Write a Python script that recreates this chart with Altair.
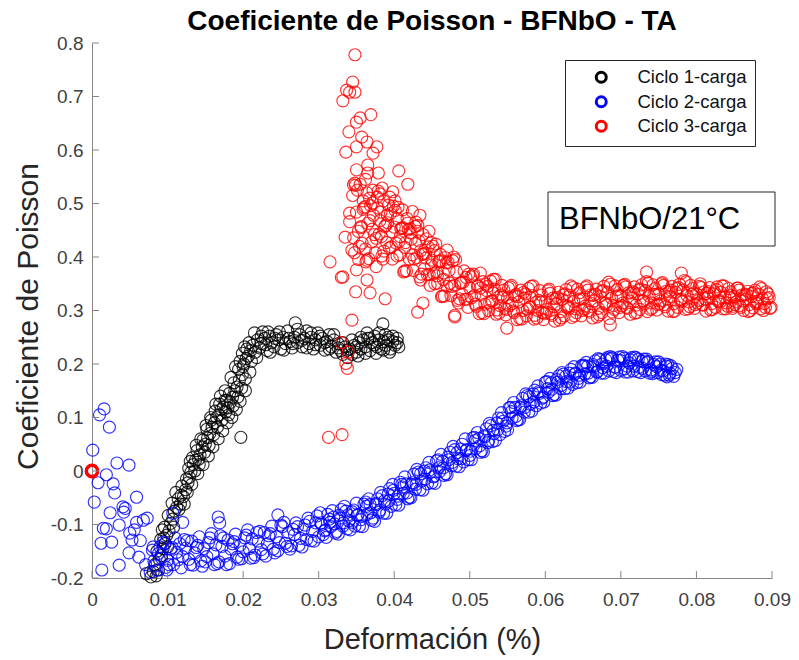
import altair as alt
import pandas as pd

series_names = ["Ciclo 1-carga", "Ciclo 2-carga", "Ciclo 3-carga"]
series_colors = ["#000000", "#0000ff", "#ff0000"]
x_ticks = [0, 0.01, 0.02, 0.03, 0.04, 0.05, 0.06, 0.07, 0.08, 0.09]
y_ticks = [-0.2, -0.1, 0, 0.1, 0.2, 0.3, 0.4, 0.5, 0.6, 0.7, 0.8]

black_pts = [
    (0.0072,-0.192),(0.0078,-0.198),(0.0081,-0.188),(0.0085,-0.196),(0.0088,-0.185),(0.0083,-0.175),
    (0.0089,-0.165),(0.0092,-0.158),(0.0086,-0.150),(0.0094,-0.145),(0.0097,-0.135),(0.0091,-0.128),
    (0.0099,-0.120),(0.0102,-0.112),(0.0096,-0.105),(0.0093,-0.110),(0.0104,-0.098),(0.0107,-0.090),
    (0.0101,-0.083),(0.0109,-0.075),(0.0112,-0.068),(0.0106,-0.060),(0.0114,-0.052),(0.0118,-0.045),
    (0.0111,-0.040),(0.0121,-0.048),(0.0124,-0.035),(0.0119,-0.028),(0.0127,-0.022),(0.0126,-0.040),
    (0.0129,-0.012),(0.0131,-0.002),(0.0128,0.005),(0.0134,0.012),(0.0137,0.020),(0.0133,0.025),
    (0.0141,0.022),(0.0143,0.030),(0.0139,0.038),(0.0146,0.045),(0.0150,0.050),(0.0147,0.058),
    (0.0153,0.062),(0.0156,0.070),(0.0152,0.078),(0.0159,0.082),(0.0162,0.090),(0.0158,0.095),
    (0.0165,0.100),(0.0168,0.105),(0.0163,0.112),(0.0171,0.115),(0.0174,0.120),(0.0169,0.125),
    (0.0177,0.110),(0.0180,0.118),(0.0178,0.132),(0.0183,0.128),(0.0186,0.138),(0.0182,0.145),
    (0.0189,0.150),(0.0192,0.157),(0.0188,0.165),(0.0197,0.063),(0.0195,0.170),(0.0199,0.180),
    (0.0194,0.190),(0.0201,0.200),(0.0204,0.210),(0.0199,0.220),(0.0202,0.232),(0.0207,0.215),
    (0.0210,0.225),(0.0208,0.240),(0.0213,0.235),(0.0216,0.222),(0.0219,0.245),(0.0222,0.230),
    (0.0226,0.260),(0.0224,0.238),(0.0229,0.248),(0.0232,0.225),(0.0235,0.252),(0.0238,0.240),
    (0.0241,0.232),(0.0244,0.255),(0.0247,0.245),(0.0250,0.228),(0.0253,0.250),(0.0256,0.238),
    (0.0259,0.262),(0.0262,0.242),(0.0265,0.230),(0.0268,0.250),(0.0269,0.277),(0.0272,0.240),
    (0.0275,0.255),(0.0278,0.232),(0.0281,0.248),(0.0284,0.262),(0.0287,0.238),(0.0290,0.250),
    (0.0293,0.228),(0.0296,0.245),(0.0299,0.258),(0.0302,0.235),(0.0305,0.248),(0.0308,0.226),
    (0.0311,0.242),(0.0314,0.255),(0.0317,0.232),(0.0320,0.245),(0.0323,0.222),(0.0326,0.238),
    (0.0329,0.225),(0.0332,0.218),(0.0335,0.232),(0.0338,0.212),(0.0341,0.228),(0.0344,0.218),
    (0.0347,0.235),(0.0350,0.222),(0.0353,0.240),(0.0356,0.228),(0.0359,0.245),(0.0362,0.232),
    (0.0365,0.248),(0.0368,0.225),(0.0371,0.240),(0.0374,0.252),(0.0377,0.232),(0.0380,0.245),
    (0.0383,0.228),(0.0385,0.275),(0.0386,0.242),(0.0389,0.235),(0.0392,0.250),(0.0395,0.228),
    (0.0398,0.242),(0.0401,0.235),(0.0404,0.248),(0.0406,0.232),(0.0394,0.222),(0.0388,0.255),
    (0.0376,0.220),(0.0364,0.258),(0.0352,0.215),(0.0215,0.258),(0.0233,0.260),(0.0203,0.172),
    (0.0218,0.212),(0.0224,0.252),(0.0230,0.236),(0.0236,0.222),(0.0242,0.248),(0.0248,0.260),
    (0.0254,0.226),(0.0260,0.248),(0.0266,0.238),(0.0272,0.265),(0.0278,0.244),(0.0284,0.230),
    (0.0290,0.258),(0.0296,0.236),(0.0302,0.252),(0.0308,0.240),(0.0314,0.228),(0.0320,0.255),
    (0.0326,0.230),(0.0332,0.240),(0.0338,0.226),(0.0344,0.245),(0.0350,0.232),(0.0356,0.250),
    (0.0362,0.220),(0.0368,0.248),(0.0374,0.236),(0.0380,0.258),(0.0386,0.226),(0.0392,0.245),
    (0.0398,0.252),(0.0404,0.240),
    (0.0095,-0.125),(0.0100,-0.142),(0.0108,-0.105),(0.0115,-0.072),(0.0122,-0.062),(0.0132,-0.025),
    (0.0136,0.000),(0.0142,0.012),(0.0149,0.035),(0.0155,0.048),(0.0161,0.068),(0.0166,0.082),
    (0.0172,0.095),(0.0176,0.132),(0.0181,0.105),(0.0187,0.122),(0.0193,0.138),(0.0198,0.155),
    (0.0200,0.195),(0.0205,0.228),(0.0211,0.205),
    (0.0117,-0.062),(0.0125,-0.015),(0.0130,0.018),(0.0138,0.048),(0.0144,0.060),(0.0151,0.085),
    (0.0157,0.100),(0.0164,0.125),(0.0170,0.140),(0.0176,0.150),(0.0184,0.175),(0.0190,0.195),
    (0.0196,0.205),(0.0140,-0.005),(0.0147,0.012),(0.0154,0.028),(0.0160,0.045),(0.0167,0.060),
    (0.0173,0.075),(0.0179,0.090),(0.0185,0.100),(0.0191,0.115),(0.0196,0.130),(0.0203,0.150),
    (0.0209,0.185),
]

blue_pts = [
    (0.0001,0.039),(0.0010,0.105),(0.0016,0.116),(0.0023,0.082),(0.0019,-0.007),(0.0008,-0.022),
    (0.0003,-0.058),(0.0028,-0.024),(0.0030,-0.041),(0.0033,0.015),(0.0049,0.011),(0.0059,-0.049),
    (0.0024,-0.078),(0.0041,-0.067),(0.0042,-0.077),(0.0036,-0.101),(0.0015,-0.107),(0.0019,-0.108),
    (0.0012,-0.135),(0.0026,-0.133),(0.0013,-0.185),(0.0036,-0.176),(0.0050,-0.116),(0.0053,-0.129),
    (0.0049,-0.153),(0.0059,-0.096),(0.0068,-0.092),(0.0062,-0.161),(0.0073,-0.088),(0.0081,-0.142),
    (0.0167,-0.086),(0.0169,-0.097),(0.0107,-0.079),(0.0120,-0.096),(0.0077,-0.189),(0.0099,-0.185),
    (0.0246,-0.082),(0.0044,-0.070),(0.0064,-0.130),(0.0071,-0.175),(0.0056,-0.110),
    (0.0080,-0.148),(0.0084,-0.177),(0.0088,-0.154),(0.0092,-0.163),(0.0096,-0.136),(0.0100,-0.167),
    (0.0104,-0.146),(0.0108,-0.175),(0.0112,-0.152),(0.0116,-0.136),(0.0120,-0.160),(0.0124,-0.144),
    (0.0128,-0.165),(0.0132,-0.131),(0.0136,-0.153),(0.0140,-0.139),(0.0144,-0.168),(0.0148,-0.145),
    (0.0152,-0.160),(0.0156,-0.125),(0.0160,-0.155),(0.0164,-0.138),(0.0168,-0.170),(0.0172,-0.141),
    (0.0176,-0.159),(0.0180,-0.129),(0.0184,-0.146),(0.0188,-0.132),(0.0192,-0.161),(0.0196,-0.139),
    (0.0200,-0.151),(0.0204,-0.120),(0.0208,-0.145),(0.0212,-0.127),(0.0216,-0.157),(0.0220,-0.131),
    (0.0224,-0.147),(0.0228,-0.115),(0.0232,-0.136),(0.0236,-0.117),(0.0240,-0.146),(0.0244,-0.123),
    (0.0248,-0.134),(0.0252,-0.104),(0.0256,-0.135),(0.0260,-0.115),(0.0264,-0.140),(0.0268,-0.119),
    (0.0272,-0.104),(0.0276,-0.126),(0.0280,-0.109),(0.0284,-0.128),(0.0288,-0.094),(0.0292,-0.113),
    (0.0296,-0.097),(0.0300,-0.123),(0.0304,-0.100),(0.0308,-0.112),(0.0312,-0.081),(0.0316,-0.104),
    (0.0320,-0.086),(0.0324,-0.113),(0.0328,-0.088),(0.0332,-0.103),(0.0336,-0.075),(0.0340,-0.093),
    (0.0344,-0.076),(0.0348,-0.103),(0.0352,-0.082),(0.0356,-0.091),(0.0360,-0.062),(0.0364,-0.081),
    (0.0368,-0.063),(0.0372,-0.088),(0.0376,-0.063),(0.0380,-0.077),(0.0384,-0.046),(0.0388,-0.062),
    (0.0392,-0.043),(0.0396,-0.066),(0.0400,-0.042),(0.0404,-0.053),(0.0408,-0.021),(0.0412,-0.042),
    (0.0416,-0.024),(0.0420,-0.049),(0.0424,-0.022),(0.0428,-0.034),(0.0432,-0.002),(0.0436,-0.019),
    (0.0440,0.000),(0.0444,-0.024),(0.0448,-0.002),(0.0452,-0.011),(0.0456,0.019),(0.0460,-0.001),
    (0.0464,0.018),(0.0468,-0.005),(0.0472,0.021),(0.0476,0.010),(0.0480,0.040),(0.0484,0.023),
    (0.0488,0.041),(0.0492,0.017),(0.0496,0.040),(0.0500,0.029),(0.0504,0.062),(0.0508,0.042),
    (0.0512,0.061),(0.0516,0.038),(0.0520,0.064),(0.0524,0.053),(0.0528,0.085),(0.0532,0.070),
    (0.0536,0.090),(0.0540,0.068),(0.0544,0.093),(0.0548,0.084),(0.0552,0.118),(0.0556,0.099),
    (0.0560,0.119),(0.0564,0.096),(0.0568,0.122),(0.0572,0.110),(0.0576,0.141),(0.0580,0.125),
    (0.0584,0.144),(0.0588,0.122),(0.0592,0.145),(0.0596,0.136),(0.0600,0.166),(0.0604,0.147),
    (0.0608,0.165),(0.0612,0.143),(0.0616,0.166),(0.0620,0.154),(0.0624,0.181),(0.0628,0.167),
    (0.0632,0.183),(0.0636,0.162),(0.0640,0.183),(0.0644,0.173),(0.0648,0.197),(0.0652,0.181),
    (0.0656,0.196),(0.0660,0.176),(0.0664,0.195),(0.0668,0.185),(0.0672,0.208),(0.0676,0.193),
    (0.0680,0.208),(0.0684,0.187),(0.0688,0.212),(0.0692,0.194),(0.0696,0.207),(0.0700,0.188),
    (0.0704,0.211),(0.0708,0.196),(0.0712,0.208),(0.0716,0.187),(0.0720,0.212),(0.0724,0.194),
    (0.0728,0.205),(0.0732,0.187),(0.0736,0.205),(0.0740,0.189),(0.0744,0.199),(0.0748,0.184),
    (0.0752,0.200),(0.0756,0.187),(0.0760,0.196),(0.0764,0.179),(0.0768,0.192),(0.0772,0.184),
    (0.0082,-0.168),(0.0090,-0.142),(0.0098,-0.180),(0.0106,-0.143),(0.0114,-0.166),(0.0122,-0.128),
    (0.0130,-0.175),(0.0138,-0.143),(0.0146,-0.178),(0.0154,-0.134),(0.0162,-0.175),(0.0170,-0.121),
    (0.0178,-0.175),(0.0186,-0.136),(0.0194,-0.165),(0.0202,-0.125),(0.0210,-0.163),(0.0218,-0.115),
    (0.0226,-0.155),(0.0234,-0.121),(0.0242,-0.153),(0.0250,-0.101),(0.0258,-0.141),(0.0266,-0.109),
    (0.0274,-0.139),(0.0282,-0.101),(0.0290,-0.130),(0.0298,-0.084),(0.0306,-0.119),(0.0314,-0.090),
    (0.0322,-0.116),(0.0330,-0.072),(0.0338,-0.108),(0.0346,-0.073),(0.0354,-0.103),(0.0362,-0.058),
    (0.0370,-0.092),(0.0378,-0.052),(0.0386,-0.079),(0.0394,-0.033),(0.0402,-0.063),(0.0410,-0.025),
    (0.0418,-0.052),(0.0426,-0.006),(0.0434,-0.035),(0.0442,0.006),(0.0450,-0.022),(0.0458,0.021),
    (0.0466,-0.008),(0.0474,0.035),(0.0482,0.009),(0.0490,0.050),(0.0498,0.021),(0.0506,0.063),
    (0.0514,0.035),(0.0522,0.079),(0.0530,0.055),(0.0538,0.099),(0.0546,0.074),(0.0554,0.119),
    (0.0562,0.094),(0.0570,0.136),(0.0578,0.110),(0.0586,0.151),(0.0594,0.127),(0.0602,0.167),
    (0.0610,0.141),(0.0618,0.178),(0.0626,0.154),(0.0634,0.190),(0.0642,0.165),(0.0650,0.198),
    (0.0658,0.174),(0.0666,0.206),(0.0674,0.183),(0.0682,0.212),(0.0690,0.186),(0.0698,0.213),
    (0.0706,0.185),(0.0714,0.212),(0.0722,0.186),(0.0730,0.209),(0.0738,0.183),(0.0746,0.204),
    (0.0754,0.180),(0.0762,0.199),(0.0770,0.177),(0.0761,0.176),(0.0774,0.190),
    (0.0086,-0.185),(0.0094,-0.133),(0.0102,-0.175),(0.0110,-0.125),(0.0118,-0.181),(0.0126,-0.130),
    (0.0134,-0.176),(0.0142,-0.123),(0.0150,-0.170),(0.0158,-0.117),(0.0166,-0.173),(0.0174,-0.125),
    (0.0182,-0.173),(0.0190,-0.118),(0.0198,-0.164),(0.0206,-0.110),(0.0214,-0.162),(0.0222,-0.113),
    (0.0230,-0.159),(0.0238,-0.103),(0.0246,-0.149),(0.0254,-0.096),(0.0262,-0.146),(0.0270,-0.097),
    (0.0278,-0.142),(0.0286,-0.088),(0.0294,-0.131),(0.0302,-0.078),(0.0310,-0.124),(0.0318,-0.074),
    (0.0326,-0.118),(0.0334,-0.066),(0.0342,-0.110),(0.0350,-0.060),(0.0358,-0.104),(0.0366,-0.052),
    (0.0374,-0.094),(0.0382,-0.040),(0.0390,-0.079),(0.0398,-0.025),(0.0406,-0.064),(0.0414,-0.011),
    (0.0422,-0.050),(0.0430,0.003),(0.0438,-0.036),(0.0446,0.016),(0.0454,-0.023),(0.0462,0.031),
    (0.0470,-0.007),(0.0478,0.046),(0.0486,0.008),(0.0494,0.060),(0.0502,0.021),(0.0510,0.072),
    (0.0518,0.036),(0.0526,0.089),(0.0534,0.057),(0.0542,0.109),(0.0550,0.077),(0.0558,0.128),
    (0.0566,0.096),(0.0574,0.144),(0.0582,0.112),(0.0590,0.159),(0.0598,0.129),(0.0606,0.173),
    (0.0614,0.142),(0.0622,0.184),(0.0630,0.155),(0.0638,0.195),(0.0646,0.166),(0.0654,0.203),
    (0.0662,0.175),(0.0670,0.210),(0.0678,0.183),(0.0686,0.214),(0.0694,0.184),(0.0702,0.214),
    (0.0710,0.185),(0.0718,0.213),(0.0726,0.184),(0.0734,0.209),(0.0742,0.182),(0.0750,0.204),
    (0.0758,0.179),(0.0766,0.197),
    (0.0303,-0.097),(0.0309,-0.110),(0.0315,-0.096),(0.0321,-0.099),(0.0327,-0.083),(0.0333,-0.097),
    (0.0339,-0.082),(0.0345,-0.096),(0.0351,-0.083),(0.0357,-0.085),(0.0363,-0.066),(0.0369,-0.078),
    (0.0375,-0.061),(0.0381,-0.073),(0.0387,-0.056),(0.0393,-0.056),(0.0399,-0.036),(0.0405,-0.047),
    (0.0411,-0.030),(0.0417,-0.041),(0.0423,-0.025),(0.0429,-0.025),(0.0435,-0.005),(0.0441,-0.015),
    (0.0447,0.002),(0.0453,-0.009),(0.0459,0.006),(0.0465,0.006),(0.0471,0.026),(0.0477,0.016),
    (0.0483,0.034),(0.0489,0.023),(0.0495,0.038),(0.0501,0.037),(0.0507,0.057),(0.0513,0.047),
    (0.0519,0.066),(0.0525,0.057),(0.0531,0.076),(0.0537,0.077),(0.0543,0.099),(0.0549,0.090),
    (0.0555,0.111),(0.0561,0.102),(0.0567,0.119),(0.0573,0.119),(0.0579,0.139),(0.0585,0.129),
    (0.0591,0.148),(0.0597,0.138),(0.0603,0.154),(0.0609,0.153),(0.0615,0.171),(0.0621,0.160),
    (0.0627,0.177),(0.0633,0.166),(0.0639,0.181),(0.0645,0.179),(0.0651,0.196),(0.0657,0.183),
    (0.0663,0.199),(0.0669,0.186),(0.0675,0.200),(0.0681,0.196),(0.0687,0.210),(0.0693,0.194),
    (0.0699,0.207),(0.0705,0.191),(0.0711,0.202),(0.0717,0.196),(0.0723,0.209),(0.0729,0.192),
    (0.0735,0.203),(0.0741,0.186),(0.0747,0.195),(0.0753,0.188),(0.0759,0.200),(0.0765,0.183),
]

red_pts = [
    (0.0313,0.063),(0.0331,0.068),(0.0330,0.240),(0.0339,0.222),(0.0336,0.201),(0.0338,0.192),
    (0.0348,0.778),(0.0345,0.727),(0.0337,0.712),(0.0341,0.708),(0.0348,0.708),(0.0332,0.692),
    (0.0355,0.660),(0.0369,0.666),(0.0350,0.652),(0.0340,0.634),(0.0357,0.624),(0.0364,0.615),
    (0.0377,0.606),(0.0350,0.606),(0.0336,0.596),(0.0372,0.594),(0.0365,0.572),(0.0350,0.563),
    (0.0365,0.557),(0.0379,0.557),(0.0406,0.561),(0.0418,0.536),(0.0348,0.538),(0.0346,0.535),
    (0.0384,0.529),(0.0398,0.522),(0.0364,0.520),(0.0341,0.482),(0.0341,0.466),(0.0335,0.437),
    (0.0344,0.413),(0.0315,0.391),(0.0332,0.363),(0.0330,0.362),(0.0350,0.376),(0.0364,0.357),
    (0.0349,0.335),(0.0368,0.333),(0.0388,0.322),(0.0344,0.282),(0.0431,0.297),(0.0480,0.291),
    (0.0438,0.314),(0.0434,0.478),(0.0470,0.413),(0.0514,0.370),(0.0531,0.333),
    (0.0734,0.372),(0.0780,0.370),(0.0480,0.288),(0.0549,0.267),(0.0686,0.273),
    (0.0362,0.545),(0.0368,0.468),(0.0372,0.525),(0.0378,0.492),(0.0381,0.468),(0.0386,0.505),
    (0.0391,0.478),(0.0394,0.512),(0.0397,0.447),(0.0401,0.505),(0.0404,0.472),(0.0408,0.438),
    (0.0411,0.488),(0.0414,0.418),(0.0417,0.472),(0.0421,0.445),(0.0424,0.485),(0.0428,0.425),
    (0.0431,0.448),(0.0435,0.412),(0.0438,0.442),(0.0442,0.398),(0.0446,0.448),(0.0449,0.385),
    (0.0453,0.412),(0.0457,0.365),(0.0461,0.405),(0.0465,0.358),(0.0356,0.455),(0.0359,0.505),
    (0.0371,0.452),(0.0383,0.438),(0.0362,0.415),(0.0376,0.382),(0.0353,0.395),
    (0.03450,0.515),(0.03475,0.408),(0.03500,0.484),(0.03525,0.448),(0.03550,0.536),(0.03575,0.426),
    (0.03600,0.492),(0.03625,0.391),(0.03650,0.463),(0.03675,0.510),(0.03700,0.428),(0.03725,0.478),
    (0.03750,0.408),(0.03775,0.512),(0.03800,0.443),(0.03825,0.484),(0.03850,0.396),(0.03875,0.457),
    (0.03900,0.427),(0.03925,0.497),(0.03950,0.481),(0.03975,0.396),(0.04000,0.456),(0.04025,0.426),
    (0.04050,0.493),(0.04075,0.404),(0.04100,0.454),(0.04125,0.372),(0.04150,0.427),(0.04175,0.463),
    (0.04200,0.396),(0.04225,0.433),(0.04250,0.375),(0.04275,0.457),(0.04300,0.399),(0.04325,0.430),
    (0.04350,0.357),(0.04375,0.405),(0.04400,0.378),(0.04425,0.434),(0.04450,0.419),(0.04475,0.347),
    (0.04500,0.394),(0.04525,0.369),(0.04550,0.424),(0.04575,0.351),(0.04600,0.392),(0.04625,0.326),
    (0.04650,0.370),(0.04675,0.399),(0.04700,0.345),(0.04725,0.375),(0.04750,0.328),(0.04775,0.393),
    (0.04800,0.347),(0.04825,0.372),(0.04850,0.314),(0.04875,0.351),(0.04900,0.330),(0.04925,0.374),
    (0.04950,0.362),(0.04975,0.306),(0.05000,0.342),(0.05025,0.324),(0.05050,0.368),(0.05075,0.312),
    (0.05100,0.345),(0.05125,0.294),(0.05150,0.330),(0.05175,0.354),(0.05200,0.312),(0.05225,0.337),
    (0.05250,0.300),(0.05275,0.355),(0.05300,0.318),(0.05325,0.340),(0.05350,0.293),(0.05375,0.325),
    (0.05400,0.309),(0.05425,0.347),(0.05450,0.338),(0.05475,0.292),(0.05500,0.324),(0.05525,0.309),
    (0.05550,0.347),(0.05575,0.299),(0.05600,0.328),(0.05625,0.283),(0.05650,0.316),(0.05675,0.338),
    (0.05700,0.300),(0.05725,0.323),(0.05750,0.290),(0.05775,0.341),(0.05800,0.307),(0.05825,0.328),
    (0.05850,0.284),(0.05875,0.315),(0.05900,0.300),(0.05925,0.337),(0.05950,0.329),(0.05975,0.283),
    (0.06000,0.316),(0.06025,0.302),(0.06050,0.340),(0.06075,0.294),(0.06100,0.323),(0.06125,0.280),
    (0.06150,0.312),(0.06175,0.334),(0.06200,0.298),(0.06225,0.321),(0.06250,0.290),(0.06275,0.339),
    (0.06300,0.308),(0.06325,0.328),(0.06350,0.287),(0.06375,0.317),(0.06400,0.303),(0.06425,0.340),
    (0.06450,0.333),(0.06475,0.290),(0.06500,0.322),(0.06525,0.308),(0.06550,0.346),(0.06575,0.300),
    (0.06600,0.329),(0.06625,0.286),(0.06650,0.318),(0.06675,0.340),(0.06700,0.304),(0.06725,0.327),
    (0.06750,0.296),(0.06775,0.345),(0.06800,0.314),(0.06825,0.334),(0.06850,0.285),(0.06875,0.323),
    (0.06900,0.309),(0.06925,0.346),(0.06950,0.339),(0.06975,0.296),(0.07000,0.327),(0.07025,0.314),
    (0.07050,0.349),(0.07075,0.306),(0.07100,0.333),(0.07125,0.293),(0.07150,0.323),(0.07175,0.344),
    (0.07200,0.310),(0.07225,0.331),(0.07250,0.302),(0.07275,0.348),(0.07300,0.318),(0.07325,0.337),
    (0.07350,0.298),(0.07375,0.327),(0.07400,0.314),(0.07425,0.348),(0.07450,0.341),(0.07475,0.301),
    (0.07500,0.331),(0.07525,0.318),(0.07550,0.352),(0.07575,0.311),(0.07600,0.336),(0.07625,0.299),
    (0.07650,0.326),(0.07675,0.345),(0.07700,0.313),(0.07725,0.334),(0.07750,0.306),(0.07775,0.349),
    (0.07800,0.321),(0.07825,0.338),(0.07850,0.302),(0.07875,0.328),(0.07900,0.316),(0.07925,0.347),
    (0.07950,0.341),(0.07975,0.304),(0.08000,0.331),(0.08025,0.319),(0.08050,0.350),(0.08075,0.311),
    (0.08100,0.335),(0.08125,0.299),(0.08150,0.325),(0.08175,0.343),(0.08200,0.313),(0.08225,0.331),
    (0.08250,0.306),(0.08275,0.344),(0.08300,0.319),(0.08325,0.334),(0.08350,0.303),(0.08375,0.325),
    (0.08400,0.314),(0.08425,0.341),(0.08450,0.335),(0.08475,0.304),(0.08500,0.326),(0.08525,0.316),
    (0.08550,0.342),(0.08575,0.309),(0.08600,0.329),(0.08625,0.300),(0.08650,0.321),(0.08675,0.336),
    (0.08700,0.311),(0.08725,0.326),(0.08750,0.305),(0.08775,0.338),(0.08800,0.317),(0.08825,0.330),
    (0.08850,0.303),(0.08875,0.322),(0.08900,0.313),(0.08925,0.335),(0.08950,0.331),(0.08975,0.304),
    (0.034625,0.436),(0.035125,0.525),(0.035625,0.457),(0.036125,0.494),(0.036625,0.397),(0.037125,0.501),
    (0.037625,0.435),(0.038125,0.518),(0.038625,0.411),(0.039125,0.464),(0.039625,0.419),(0.040125,0.487),
    (0.040625,0.429),(0.041125,0.455),(0.041625,0.374),(0.042125,0.453),(0.042625,0.396),(0.043125,0.459),
    (0.043625,0.368),(0.044125,0.407),(0.044625,0.367),(0.045125,0.420),(0.045625,0.372),(0.046125,0.393),
    (0.046625,0.327),(0.047125,0.390),(0.047625,0.345),(0.048125,0.395),(0.048625,0.322),(0.049125,0.353),
    (0.049625,0.321),(0.050125,0.363),(0.050625,0.328),(0.051125,0.346),(0.051625,0.296),(0.052125,0.349),
    (0.052625,0.315),(0.053125,0.358),(0.053625,0.301),(0.054125,0.329),(0.054625,0.304),(0.055125,0.342),
    (0.055625,0.313),(0.056125,0.330),(0.056625,0.285),(0.057125,0.334),(0.057625,0.303),(0.058125,0.345),
    (0.058625,0.291),(0.059125,0.319),(0.059625,0.296),
    (0.034875,0.534),(0.035375,0.420),(0.035875,0.489),(0.036375,0.394),(0.036875,0.496),(0.037375,0.442),
    (0.037875,0.523),(0.038375,0.402),(0.038875,0.459),(0.039375,0.417),(0.039875,0.495),(0.040375,0.402),
    (0.040875,0.453),(0.041375,0.374),(0.041875,0.451),(0.042375,0.404),(0.042875,0.465),(0.043375,0.363),
    (0.043875,0.406),(0.044375,0.367),(0.044875,0.427),(0.045375,0.350),(0.045875,0.391),(0.046375,0.327),
    (0.046875,0.389),(0.047375,0.351),(0.047875,0.400),(0.048375,0.319),(0.048875,0.352),(0.049375,0.321),
    (0.049875,0.368),
    (0.060125,0.297),(0.060625,0.332),(0.061125,0.307),(0.061625,0.324),(0.062125,0.286),(0.062625,0.331),
    (0.063125,0.304),(0.063625,0.343),(0.064125,0.296),(0.064625,0.322),(0.065125,0.303),(0.065625,0.338),
    (0.066125,0.313),(0.066625,0.330),(0.067125,0.292),(0.067625,0.337),(0.068125,0.310),(0.068625,0.349),
    (0.069125,0.302),(0.069625,0.328),(0.070125,0.309),(0.070625,0.344),(0.071125,0.318),(0.071625,0.335),
    (0.072125,0.296),(0.072625,0.340),(0.073125,0.313),(0.073625,0.351),(0.074125,0.304),(0.074625,0.330),
    (0.075125,0.313),(0.075625,0.347),(0.076125,0.322),(0.076625,0.338),(0.077125,0.299),(0.077625,0.343),
    (0.078125,0.317),(0.078625,0.354),(0.079125,0.307),(0.079625,0.333),(0.080125,0.314),(0.080625,0.343),
    (0.081125,0.322),(0.081625,0.335),(0.082125,0.302),(0.082625,0.339),(0.083125,0.316),(0.083625,0.346),
    (0.084125,0.308),(0.084625,0.328),(0.085125,0.311),(0.085625,0.338),(0.086125,0.318),(0.086625,0.330),
    (0.087125,0.300),(0.087625,0.334),(0.088125,0.313),(0.088625,0.341),(0.089125,0.306),(0.089625,0.324),
    (0.050375,0.365),(0.050875,0.308),(0.051375,0.342),(0.051875,0.294),(0.052375,0.345),(0.052875,0.317),
    (0.053375,0.358),(0.053875,0.295),(0.054375,0.325),(0.054875,0.302),(0.055375,0.344),(0.055875,0.296),
    (0.056375,0.326),(0.056875,0.284),(0.057375,0.331),(0.057875,0.306),(0.058375,0.346),(0.058875,0.286),
    (0.059375,0.316),(0.059875,0.294),(0.060375,0.337),(0.060875,0.291),(0.061375,0.322),(0.061875,0.282),
    (0.062375,0.329),(0.062875,0.306),(0.063375,0.346),(0.063875,0.290),(0.064375,0.320),(0.064875,0.300),
    (0.065375,0.343),(0.065875,0.297),(0.066375,0.328),(0.066875,0.288),(0.067375,0.335),(0.067875,0.313),
    (0.068375,0.353),(0.068875,0.297),(0.069375,0.326),(0.069875,0.306),(0.070375,0.347),(0.070875,0.304),
    (0.071375,0.333),(0.071875,0.295),(0.072375,0.339),(0.072875,0.318),(0.073375,0.354),(0.073875,0.302),
    (0.074375,0.330),(0.074875,0.311),(0.075375,0.350),(0.075875,0.307),(0.076375,0.335),(0.076875,0.298),
    (0.077375,0.341),(0.077875,0.319),(0.078375,0.356),(0.078875,0.303),(0.079375,0.330),(0.079875,0.311),
    (0.080375,0.345),(0.080875,0.310),(0.081375,0.332),(0.081875,0.301),(0.082375,0.335),(0.082875,0.317),
    (0.083375,0.346),(0.083875,0.303),(0.084375,0.324),(0.084875,0.308),(0.085375,0.342),(0.085875,0.306),
    (0.086375,0.329),(0.086875,0.298),(0.087375,0.332),(0.087875,0.314),(0.088375,0.344),(0.088875,0.300),
    (0.089375,0.322),(0.089875,0.306),
]

red_origin_pts = [(0.0, 0.0)]

annotation_text = ["BFNbO/21°C"]

FONT = "Liberation Sans"

rows = []
for name, pts in zip(series_names, [black_pts, blue_pts, red_pts]):
    for x, y in pts:
        rows.append({"def": x, "nu": y, "serie": name})
df = pd.DataFrame(rows)
df_origin = pd.DataFrame([{"def": x, "nu": y} for x, y in red_origin_pts])
df_xt = pd.DataFrame({"def": x_ticks})
df_yt = pd.DataFrame({"nu": y_ticks})
df_txt = pd.DataFrame({"t": annotation_text})

xscale = alt.Scale(domain=[0, 0.09], nice=False, zero=False)
yscale = alt.Scale(domain=[-0.2, 0.8], nice=False, zero=False)

points = alt.Chart(df).mark_point(
    shape="circle", filled=False, size=145, strokeWidth=1.15, opacity=0.8, clip=False
).encode(
    x=alt.X("def:Q", scale=xscale, axis=alt.Axis(
        values=x_ticks, title="Deformación (%)", grid=False, ticks=False, tickSize=0,
        labelExpr="datum.value == 0 ? '0' : format(datum.value, '.2f')",
        labelFont=FONT, labelFontSize=19, labelColor="#404040", labelPadding=12,
        labelFlush=False, labelOverlap=False,
        domainColor="#868686", domainWidth=1,
        titleFont=FONT, titleFontSize=29, titleFontWeight="normal", titleColor="#262626",
        titleX=340, titleY=70, titleAlign="center", titleBaseline="alphabetic",
    )),
    y=alt.Y("nu:Q", scale=yscale, axis=alt.Axis(
        values=y_ticks, title="Coeficiente de Poisson", grid=False, ticks=False, tickSize=0,
        labelExpr="datum.value == 0 ? '0' : replace(format(datum.value, '.1f'), '\u2212', '-')",
        labelFont=FONT, labelFontSize=19, labelColor="#404040", labelPadding=9,
        labelFlush=False, labelOverlap=False,
        domainColor="#868686", domainWidth=1,
        titleFont=FONT, titleFontSize=30, titleFontWeight="normal", titleColor="#262626",
        titleX=-64, titleY=273, titleAlign="center", titleBaseline="middle", titleAngle=-90,
    )),
    color=alt.Color("serie:N", scale=alt.Scale(domain=series_names, range=series_colors),
                    sort=series_names,
                    legend=alt.Legend(
                        title=None, orient="none", legendX=473, legendY=17,
                        padding=8, strokeColor="#262626", fillColor="white",
                        labelFont=FONT, labelFontSize=18.5, labelColor="#111111",
                        symbolType="circle", symbolSize=100, symbolStrokeWidth=3,
                        symbolOffset=19, labelOffset=27, rowPadding=1.5, symbolOpacity=1,
                    )),
)

origin = alt.Chart(df_origin).mark_point(
    shape="circle", filled=False, size=130, strokeWidth=3.5, color="#ff0000", opacity=1, clip=False
).encode(
    x=alt.X("def:Q", scale=xscale),
    y=alt.Y("nu:Q", scale=yscale),
)

xticks_layer = alt.Chart(df_xt).mark_rule(color="#868686", strokeWidth=1).encode(
    x=alt.X("def:Q", scale=xscale),
    y=alt.value(535), y2=alt.value(528),
)
yticks_layer = alt.Chart(df_yt).mark_rule(color="#868686", strokeWidth=1).encode(
    y=alt.Y("nu:Q", scale=yscale),
    x=alt.value(0), x2=alt.value(7),
)

box = alt.Chart(df_txt).mark_rect(fill="white", stroke="#262626", strokeWidth=1).encode(
    x=alt.value(456), x2=alt.value(683), y=alt.value(149), y2=alt.value(203),
)
label = alt.Chart(df_txt).mark_text(
    font=FONT, fontSize=31, align="left", baseline="middle", color="#000000"
).encode(
    text="t:N", x=alt.value(467), y=alt.value(177),
)

chart = alt.layer(points, origin, xticks_layer, yticks_layer, box, label).properties(
    width=680, height=535,
    padding={"left": 92, "top": 43, "right": 27, "bottom": 82},
    autosize=alt.AutoSizeParams(type="none"),
    title=alt.TitleParams(
        "Coeficiente de Poisson - BFNbO - TA", font=FONT, fontSize=28, fontWeight="bold",
        color="#000000", anchor="middle", offset=5, dy=7,
    ),
).configure_view(strokeWidth=0)

chart.save("out.html", embed_options={"renderer": "svg", "actions": False})
